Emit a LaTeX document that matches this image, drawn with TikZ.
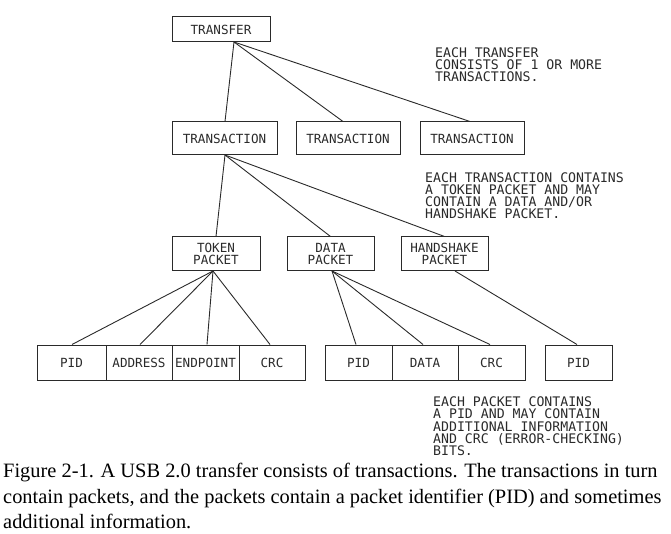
\documentclass[tikz,border=0pt]{standalone}
\usepackage{fontspec}
\setmainfont{Liberation Serif}
\newfontfamily\boxfont{DejaVu Sans Mono}
\definecolor{ink}{HTML}{2A2A2A}
\begin{document}
\begin{tikzpicture}[x=1pt,y=-1pt,
  box/.style={draw=ink,line width=1pt,minimum height=33pt,inner sep=0pt,font=\boxfont\fontsize{12.6}{12}\selectfont,text=ink,align=center},
  link/.style={draw=ink,line width=0.9pt},
  note/.style={anchor=north west,inner sep=0pt,align=left,font=\boxfont\fontsize{13.2}{12}\selectfont,text=ink},
  captext/.style={anchor=base west,inner sep=0pt,font=\fontsize{20.4}{22}\selectfont}]
\useasboundingbox (0,0) rectangle (671,534);
% boxes
\node[box,minimum width=98pt,minimum height=25pt] (tr) at (221,29.5) {TRANSFER};
\node[box,minimum width=105pt] (ta1) at (224.5,138.5) {TRANSACTION};
\node[box,minimum width=104pt] (ta2) at (348,138.5) {TRANSACTION};
\node[box,minimum width=104pt] (ta3) at (472,138.5) {TRANSACTION};
\node[box,minimum width=88pt,minimum height=34pt] (tok) at (216,254) {TOKEN\\PACKET};
\node[box,minimum width=87pt,minimum height=34pt] (dat) at (330.5,254) {DATA\\PACKET};
\node[box,minimum width=87pt,minimum height=34pt] (hs) at (444.5,254) {HANDSHAKE\\PACKET};
\node[box,minimum width=69pt,minimum height=35pt] (p1) at (71.5,362.5) {PID};
\node[box,minimum width=66pt,minimum height=35pt] (ad) at (139,362.5) {ADDRESS};
\node[box,minimum width=67pt,minimum height=35pt] (ep) at (205.5,362.5) {ENDPOINT};
\node[box,minimum width=66pt,minimum height=35pt] (c1) at (272,362.5) {CRC};
\node[box,minimum width=67pt,minimum height=35pt] (p2) at (358.5,362.5) {PID};
\node[box,minimum width=66pt,minimum height=35pt] (da) at (425,362.5) {DATA};
\node[box,minimum width=67pt,minimum height=35pt] (c2) at (491.5,362.5) {CRC};
\node[box,minimum width=67pt,minimum height=35pt] (p3) at (578.5,362.5) {PID};
% connectors
\coordinate (trb) at (234,42);
\coordinate (ta1b) at (225,155);
\coordinate (tokb) at (213,271);
\coordinate (datb) at (332,271);
\coordinate (hsb) at (455,271);
\draw[link] (trb) -- (ta1.north -| 225,0);
\draw[link] (trb) -- (ta2.north -| 343,0);
\draw[link] (trb) -- (ta3.north -| 470,0);
\draw[link] (ta1b) -- (tok.north);
\draw[link] (ta1b) -- (dat.north);
\draw[link] (ta1b) -- (hs.north);
\draw[link] (tokb) -- (p1.north -| 72,0);
\draw[link] (tokb) -- (ad.north -| 140,0);
\draw[link] (tokb) -- (ep.north -| 207,0);
\draw[link] (tokb) -- (c1.north -| 270,0);
\draw[link] (datb) -- (p2.north -| 356,0);
\draw[link] (datb) -- (da.north -| 423,0);
\draw[link] (datb) -- (c2.north -| 490,0);
\draw[link] (hsb) -- (p3.north -| 577,0);
% notes
\node[note] (n1) at (435,48) {EACH TRANSFER\\CONSISTS OF 1 OR MORE\\TRANSACTIONS.};
\node[note] (n2) at (425,173) {EACH TRANSACTION CONTAINS\\A TOKEN PACKET AND MAY\\CONTAIN A DATA AND/OR\\HANDSHAKE PACKET.};
\node[note] (n3) at (433,397) {EACH PACKET CONTAINS\\A PID AND MAY CONTAIN\\ADDITIONAL INFORMATION\\AND CRC (ERROR-CHECKING)\\BITS.};
% caption
\node[captext] (l1) at (3,477) {Figure 2-1. A USB 2.0 transfer consists of transactions. The transactions in turn};
\node[captext] (l2) at (3,503) {contain packets, and the packets contain a packet identifier (PID) and sometimes};
\node[captext] (l3) at (3,528) {additional information.};
\end{tikzpicture}
\end{document}
